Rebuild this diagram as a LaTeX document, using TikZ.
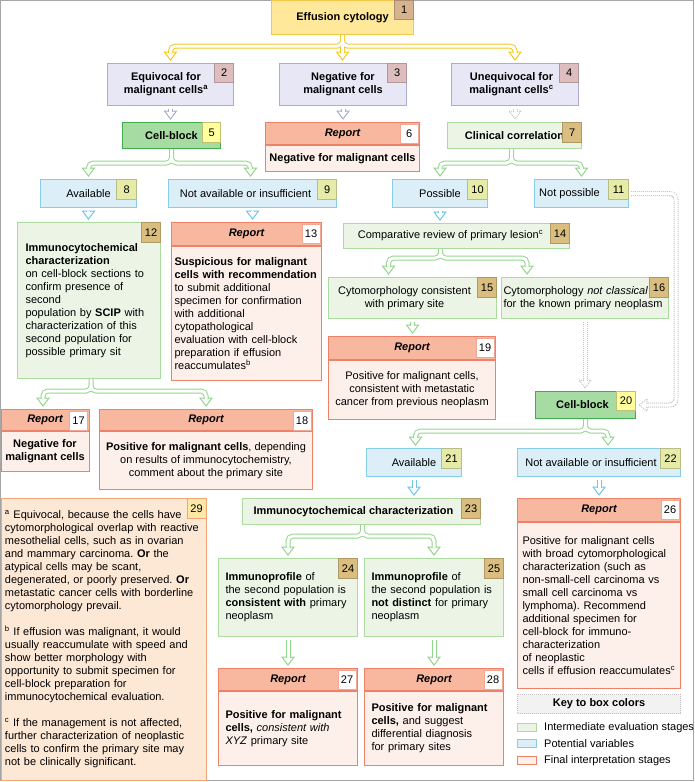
\documentclass[tikz,border=0pt]{standalone}
\usepackage{fontspec}
\setmainfont{Liberation Sans}
\usepackage{tikz}
\usepackage{xcolor}
\usetikzlibrary{positioning,calc}

\definecolor{yellowfill}{HTML}{FFE89A}
\definecolor{yellowline}{HTML}{F3C84B}
\definecolor{brownbadge}{HTML}{D7B38D}
\definecolor{tanbadge}{HTML}{D9BE80}
\definecolor{lavfill}{HTML}{E7E7F5}
\definecolor{lavline}{HTML}{ABABD3}
\definecolor{pinkbadge}{HTML}{DDBDBD}
\definecolor{cbfill}{HTML}{A6DBA2}
\definecolor{cbline}{HTML}{40AD4C}
\definecolor{ybadge}{HTML}{FFFF9C}
\definecolor{repfill}{HTML}{F8B8A0}
\definecolor{repline}{HTML}{EE8268}
\definecolor{repbody}{HTML}{FDF0EB}
\definecolor{intfill}{HTML}{ECF4E6}
\definecolor{intline}{HTML}{A9DC9E}
\definecolor{varfill}{HTML}{DCEEF8}
\definecolor{varline}{HTML}{86CDE8}
\definecolor{obadge}{HTML}{E6EBA8}
\definecolor{notefill}{HTML}{FDE7D5}
\definecolor{noteline}{HTML}{F2A676}
\definecolor{notebadge}{HTML}{FDE9A4}
\definecolor{keyfill}{HTML}{F2F2F2}
\definecolor{keyline}{HTML}{C0C0C0}
\definecolor{framegray}{HTML}{A6A6A6}
\definecolor{arryellow}{HTML}{F7C920}
\definecolor{arrgreen}{HTML}{93D68D}
\definecolor{arrblue}{HTML}{6EC7E8}
\definecolor{arrlav}{HTML}{ABABD3}
\definecolor{arrgray}{HTML}{C4C4C4}

\newcommand{\boxfont}{\fontsize{11}{13}\selectfont\frenchspacing}

\tikzstyle{box} = [rectangle, anchor=north west, line width=1pt, inner sep=0pt]
\tikzstyle{startbox} = [box, draw=yellowline, fill=yellowfill, font=\boxfont\bfseries]
\tikzstyle{resultbox} = [box, draw=lavline, fill=lavfill, align=center, font=\boxfont\bfseries]
\tikzstyle{cellblock} = [box, draw=cbline, fill=cbfill, font=\boxfont\bfseries]
\tikzstyle{stagebox} = [box, draw=intline, fill=intfill]
\tikzstyle{varbox} = [box, draw=varline, fill=varfill]
\tikzstyle{reporthead} = [box, draw=repline, fill=repfill, font=\boxfont\bfseries\itshape]
\tikzstyle{reportbody} = [box, draw=repline, fill=repbody]
\tikzstyle{notebox} = [box, draw=noteline, fill=notefill]
\tikzstyle{swatch} = [box, minimum width=19pt, minimum height=8pt]
\tikzstyle{badge} = [rectangle, anchor=north east, minimum width=19pt, minimum height=20pt, inner sep=0pt, line width=0.8pt]
\tikzstyle{tbadge} = [badge, fill=tanbadge, draw=tanbadge!80!black]
\tikzstyle{pbadge} = [badge, fill=pinkbadge, draw=pinkbadge!80!black, minimum height=19pt]
\tikzstyle{ybox} = [badge, fill=ybadge, draw=ybadge!75!black]
\tikzstyle{obox} = [badge, fill=obadge, draw=obadge!80!black]
\tikzstyle{wbadge} = [badge, fill=white, draw=repline!70, minimum width=18pt, minimum height=19pt]

\tikzset{
  hhead/.pic={\path[pic actions] (-6pt,8pt) -- (6pt,8pt) -- (0pt,0pt) -- cycle;},
  yline/.style={draw=white, line width=3pt, preaction={draw=arryellow, line width=5pt}},
  yhead/.style={draw=arryellow, fill=white, line width=1pt},
  lline/.style={draw=white, line width=3pt, preaction={draw=arrlav, line width=5pt}},
  lhead/.style={draw=arrlav, fill=white, line width=1pt},
  gline/.style={draw=white, line width=3pt, preaction={draw=arrgreen, line width=5pt}},
  ghead/.style={draw=arrgreen, fill=white, line width=1pt},
  bline/.style={draw=white, line width=3pt, preaction={draw=arrblue, line width=5pt}},
  bhead/.style={draw=arrblue, fill=white, line width=1pt},
  dline/.style={draw=white, line width=3pt, preaction={draw=arrgray, line width=5pt, dash pattern=on 1pt off 1pt}},
  dhead/.style={draw=arrgray, fill=white, line width=1pt, dash pattern=on 1pt off 1pt},
}

% straight hollow arrow: kind, from node, to node
\newcommand{\flowdown}[3]{%
  \pic[#1head] at ($(#2.south |- #3.north)+(0,-3)$) {hhead};
  \draw[#1line] ($(#2.south)+(0,3)$) -- ($(#2.south |- #3.north)+(0,-10)$);
}
% forked hollow arrow: kind, from point, drop, left tip, right tip
\newcommand{\flowfork}[5]{%
  \pic[#1head] at ($(#4)+(0,-3)$) {hhead};
  \pic[#1head] at ($(#5)+(0,-3)$) {hhead};
  \draw[#1line, rounded corners=5pt] (#2) -- ++(0,#3) -| ($(#4)+(0,-10)$)
    (#2) -- ++(0,#3) -| ($(#5)+(0,-10)$);
}

\begin{document}
\begin{tikzpicture}[x=1pt, y=-1pt, font=\boxfont]
        \useasboundingbox (0,0) rectangle (695,782);
        \draw[framegray, line width=1pt] (0.5,0.5) rectangle (693,780.5);

        % Effusion cytology and first results
        \node (n1) [startbox, minimum width=142pt, minimum height=34pt] at (271,0) {Effusion cytology};
        \node (b1) [badge, fill=brownbadge, draw=brownbadge!80!black, minimum height=19pt] at (n1.north east) {1};
        \node (n2) [resultbox, minimum width=126pt, minimum height=42pt] at (107,63) {Equivocal for\hspace*{9pt}\\malignant cells\textsuperscript{a}\hspace*{9pt}};
        \node (b2) [pbadge] at (n2.north east) {2};
        \node (n3) [resultbox, minimum width=127pt, minimum height=42pt] at (279,63) {Negative for\\malignant cells};
        \node (b3) [pbadge] at (n3.north east) {3};
        \node (n4) [resultbox, minimum width=127pt, minimum height=42pt] at (451,63) {Unequivocal for\hspace*{7pt}\\malignant cells\textsuperscript{c}\hspace*{7pt}};
        \node (b4) [pbadge] at (n4.north east) {4};

        % Second level
        \node (n5) [cellblock, minimum width=98pt, minimum height=26pt] at (122,122) {Cell-block};
        \node (b5) [ybox, minimum width=18pt] at (n5.north east) {5};
        \node (h6) [reporthead, minimum width=154pt, minimum height=22pt] at (265,122) {Report};
        \node (b6) [wbadge] at ([xshift=-1.5pt,yshift=-1.5pt]h6.north east) {6};
        \node (n6) [reportbody, minimum width=154pt, minimum height=26pt, font=\boxfont\bfseries] at (h6.south west) {Negative for malignant cells};
        \node (n7) [stagebox, minimum width=134pt, minimum height=26pt, font=\boxfont\bfseries] at (447,122) {Clinical correlation};
        \node (b7) [tbadge] at (n7.north east) {7};

        % Potential variables
        \node (n8) [varbox, minimum width=96pt, minimum height=28pt] at (40,179) {Available};
        \node (b8) [obox, minimum width=20pt] at (n8.north east) {8};
        \node (n9) [varbox, minimum width=168pt, minimum height=28pt] at (168,179) {Not available or insufficient\hspace*{14pt}};
        \node (b9) [obox] at (n9.north east) {9};
        \node (n10) [varbox, minimum width=95pt, minimum height=28pt] at (392,179) {Possible};
        \node (b10) [obox, minimum width=20pt] at (n10.north east) {10};
        \node (n11) [varbox, minimum width=94pt, minimum height=28pt] at (534,179) {Not possible\hspace*{24pt}};
        \node (b11) [obox, minimum width=20pt] at (n11.north east) {11};

        % Cell-block available / not available
        \node (n12) [stagebox, minimum width=143pt, minimum height=156pt, text width=127pt, inner xsep=8pt, align=left] at (17,222) {\textbf{Immunocytochemical}\\ \textbf{characterization}\\ on cell-block sections to\\ confirm presence of\\ second\\ population by \textbf{SCIP} with\\ characterization of this\\ second population for\\ possible primary sit};
        \node (b12) [tbadge] at (n12.north east) {12};
        \node (h13) [reporthead, minimum width=150pt, minimum height=23pt] at (171,222) {Report};
        \node (b13) [wbadge] at ([xshift=-1.5pt,yshift=-1.5pt]h13.north east) {13};
        \node (n13) [reportbody, minimum width=150pt, minimum height=134pt, text width=144pt, inner xsep=3pt, align=left] at (h13.south west) {\textbf{Suspicious for malignant}\\ \textbf{cells with recommendation}\\ to submit additional\\ specimen for confirmation\\ with additional\\ cytopathological\\ evaluation with cell-block\\ preparation if effusion\\ reaccumulates\textsuperscript{b}};

        % Clinical correlation possible
        \node (n14) [stagebox, minimum width=226pt, minimum height=25pt] at (343,223) {Comparative review of primary lesion\textsuperscript{c}\hspace*{12pt}};
        \node (b14) [tbadge] at (n14.north east) {14};
        \node (n15) [stagebox, minimum width=168pt, minimum height=41pt, align=center] at (328,277) {Cytomorphology consistent\hspace*{16pt}\\with primary site\hspace*{16pt}};
        \node (b15) [tbadge] at (n15.north east) {15};
        \node (n16) [stagebox, minimum width=167pt, minimum height=41pt, text width=163pt, inner xsep=2pt, align=left] at (501,277) {Cytomorphology \textit{not classical}\\for the known primary neoplasm};
        \node (b16) [tbadge] at (n16.north east) {16};

        % Reports after SCIP
        \node (h17) [reporthead, minimum width=88pt, minimum height=21pt] at (0.5,409) {Report};
        \node (b17) [wbadge] at ([xshift=-1.5pt,yshift=-1.5pt]h17.north east) {17};
        \node (n17) [reportbody, minimum width=88pt, minimum height=40pt, align=center, font=\boxfont\bfseries] at (h17.south west) {Negative for\\malignant cells};
        \node (h18) [reporthead, minimum width=213pt, minimum height=21pt] at (99,409) {Report};
        \node (b18) [wbadge] at ([xshift=-1.5pt,yshift=-1.5pt]h18.north east) {18};
        \node (n18) [reportbody, minimum width=213pt, minimum height=58pt, align=center] at (h18.south west) {\textbf{Positive for malignant cells}, depending\\on results of immunocytochemistry,\\comment about the primary site};
        \node (h19) [reporthead, minimum width=167pt, minimum height=23pt] at (328,336) {Report};
        \node (b19) [wbadge] at ([xshift=-1.5pt,yshift=-1.5pt]h19.north east) {19};
        \node (n19) [reportbody, minimum width=167pt, minimum height=59pt, align=center] at (h19.south west) {Positive for malignant cells,\\consistent with metastatic\\cancer from previous neoplasm};

        % Second cell-block
        \node (n20) [cellblock, minimum width=100pt, minimum height=27pt] at (535,391) {Cell-block\hspace*{6pt}};
        \node (b20) [ybox, minimum height=19pt] at (n20.north east) {20};
        \node (n21) [varbox, minimum width=95pt, minimum height=28pt] at (366,448) {Available};
        \node (b21) [obox, minimum width=20pt] at (n21.north east) {21};
        \node (n22) [varbox, minimum width=163pt, minimum height=28pt] at (517,448) {Not available or insufficient\hspace*{16pt}};
        \node (b22) [obox, minimum width=20pt] at (n22.north east) {22};
        \node (n23) [stagebox, minimum width=238pt, minimum height=26pt, font=\boxfont\bfseries] at (242,498) {Immunocytochemical characterization\hspace*{16pt}};
        \node (b23) [tbadge] at (n23.north east) {23};
        \node (n24) [stagebox, minimum width=139pt, minimum height=78pt, text width=125pt, inner xsep=7pt, align=left] at (218,558) {\textbf{Immunoprofile} of\\ the second population is\\ \textbf{consistent with} primary\\ neoplasm};
        \node (b24) [tbadge] at (n24.north east) {24};
        \node (n25) [stagebox, minimum width=139pt, minimum height=78pt, text width=125pt, inner xsep=7pt, align=left] at (364,558) {\textbf{Immunoprofile} of\\ the second population is\\ \textbf{not distinct} for primary\\ neoplasm};
        \node (b25) [tbadge] at (n25.north east) {25};

        % Final reports
        \node (h26) [reporthead, minimum width=163pt, minimum height=23pt] at (517,498) {Report};
        \node (b26) [wbadge] at ([xshift=-1.5pt,yshift=-1.5pt]h26.north east) {26};
        \node (n26) [reportbody, minimum width=163pt, minimum height=166pt, text width=153pt, inner xsep=5pt, align=left] at (h26.south west) {Positive for malignant cells\\ with broad cytomorphological\\ characterization (such as\\ non-small-cell carcinoma vs\\ small cell carcinoma vs\\ lymphoma). Recommend\\ additional specimen for\\ cell-block for immuno-\\ characterization\\ of neoplastic\\ cells if effusion reaccumulates\textsuperscript{c}};
        \node (h27) [reporthead, minimum width=139pt, minimum height=22pt] at (218,668) {Report};
        \node (b27) [wbadge] at ([xshift=-1.5pt,yshift=-1.5pt]h27.north east) {27};
        \node (n27) [reportbody, minimum width=139pt, minimum height=74pt, text width=125pt, inner xsep=7pt, align=left] at (h27.south west) {\textbf{Positive for malignant}\\ \textbf{cells,} \textit{consistent with}\\ \textit{XYZ} primary site\par\vspace{9pt}};
        \node (h28) [reporthead, minimum width=139pt, minimum height=22pt] at (364,668) {Report};
        \node (b28) [wbadge] at ([xshift=-1.5pt,yshift=-1.5pt]h28.north east) {28};
        \node (n28) [reportbody, minimum width=139pt, minimum height=74pt, text width=125pt, inner xsep=7pt, align=left] at (h28.south west) {\textbf{Positive for malignant}\\ \textbf{cells,} and suggest\\ differential diagnosis\\ for primary sites};

        % Footnotes
        \node (n29) [notebox, minimum width=205pt, minimum height=282pt, text width=197pt, inner xsep=4pt, align=left] at (0.5,498) {\textsuperscript{a} Equivocal, because the cells have\\ cytomorphological overlap with reactive\\ mesothelial cells, such as in ovarian\\ and mammary carcinoma. \textbf{Or} the\\ atypical cells may be scant,\\ degenerated, or poorly preserved. \textbf{Or}\\ metastatic cancer cells with borderline\\ cytomorphology prevail.\\[13pt] \textsuperscript{b} If effusion was malignant, it would\\ usually reaccumulate with speed and\\ show better morphology with\\ opportunity to submit specimen for\\ cell-block preparation for\\ immunocytochemical evaluation.\\[13pt] \textsuperscript{c} If the management is not affected,\\ further characterization of neoplastic\\ cells to confirm the primary site may\\ not be clinically significant.};
        \node (b29) [badge, fill=notebadge, draw=noteline] at (n29.north east) {29};

        % Key to box colors
        \node (key) [box, draw=keyline, fill=keyfill, dash pattern=on 1pt off 1pt, minimum width=163pt, minimum height=19pt, font=\boxfont\bfseries] at (517,694) {Key to box colors};
        \node (k1) [swatch, draw=intline, fill=intfill] at (517,723) {};
        \node (k2) [swatch, draw=varline, fill=varfill] at (517,739) {};
        \node (k3) [swatch, draw=repline, fill=repbody] at (517,756) {};
        \node (k1 text) [right=7pt of k1, inner sep=0pt] {Intermediate evaluation stages};
        \node (k2 text) [right=7pt of k2, inner sep=0pt] {Potential variables};
        \node (k3 text) [right=7pt of k3, inner sep=0pt] {Final interpretation stages};

        % Connections from effusion cytology
        \pic[yhead] at ($(n2.north)+(0,-3)$) {hhead};
        \pic[yhead] at ($(n1.south |- n3.north)+(0,-3)$) {hhead};
        \pic[yhead] at ($(n4.north)+(0,-3)$) {hhead};
        \draw[yline, rounded corners=5pt] (n1.south) -- ++(0,11) -| ($(n2.north)+(0,-10)$)
            (n1.south) -- ++(0,11) -| ($(n4.north)+(0,-10)$)
            (n1.south) -- ($(n1.south |- n3.north)+(0,-10)$);
        \flowdown{l}{n2}{n5}
        \flowdown{l}{n3}{h6}
        \flowdown{d}{n4}{n7}

        % Cell-block and clinical correlation branches
        \flowfork{g}{n5.south}{14}{n8.north}{[xshift=-2pt]n9.north}
        \flowfork{g}{[xshift=-3pt]n7.south}{14}{n10.north}{n11.north}
        \flowdown{b}{n8}{n12}
        \flowdown{b}{n9}{h13}
        \flowdown{b}{n10}{n14}
        \flowfork{g}{[xshift=2pt]n12.south}{12}{[xshift=-2pt]h17.north}{h18.north}
        \flowfork{g}{[xshift=-16pt]n14.south}{9}{[xshift=-24pt]n15.north}{[xshift=-58pt]n16.north}
        \flowdown{g}{n15}{h19}

        % Routes to the second cell-block
        \flowdown{d}{n16}{n20}
        \pic[dhead, rotate=-90] at ($(n20.east)+(3,0)$) {hhead};
        \draw[dline, rounded corners=6pt] ($(n11.east)+(2,0)$) -- ++(45,0) |- ($(n20.east)+(10,0)$);

        % Second cell-block branches
        \flowfork{g}{n20.south}{12}{[xshift=1.5pt]n21.north}{[xshift=9pt]n22.north}
        \flowdown{b}{n21}{n23}
        \flowdown{b}{n22}{h26}
        \flowfork{g}{[xshift=1pt]n23.south}{11}{n24.north}{n25.north}
        \flowdown{g}{n24}{h27}
        \flowdown{g}{n25}{h28}
    \end{tikzpicture}
\end{document}
